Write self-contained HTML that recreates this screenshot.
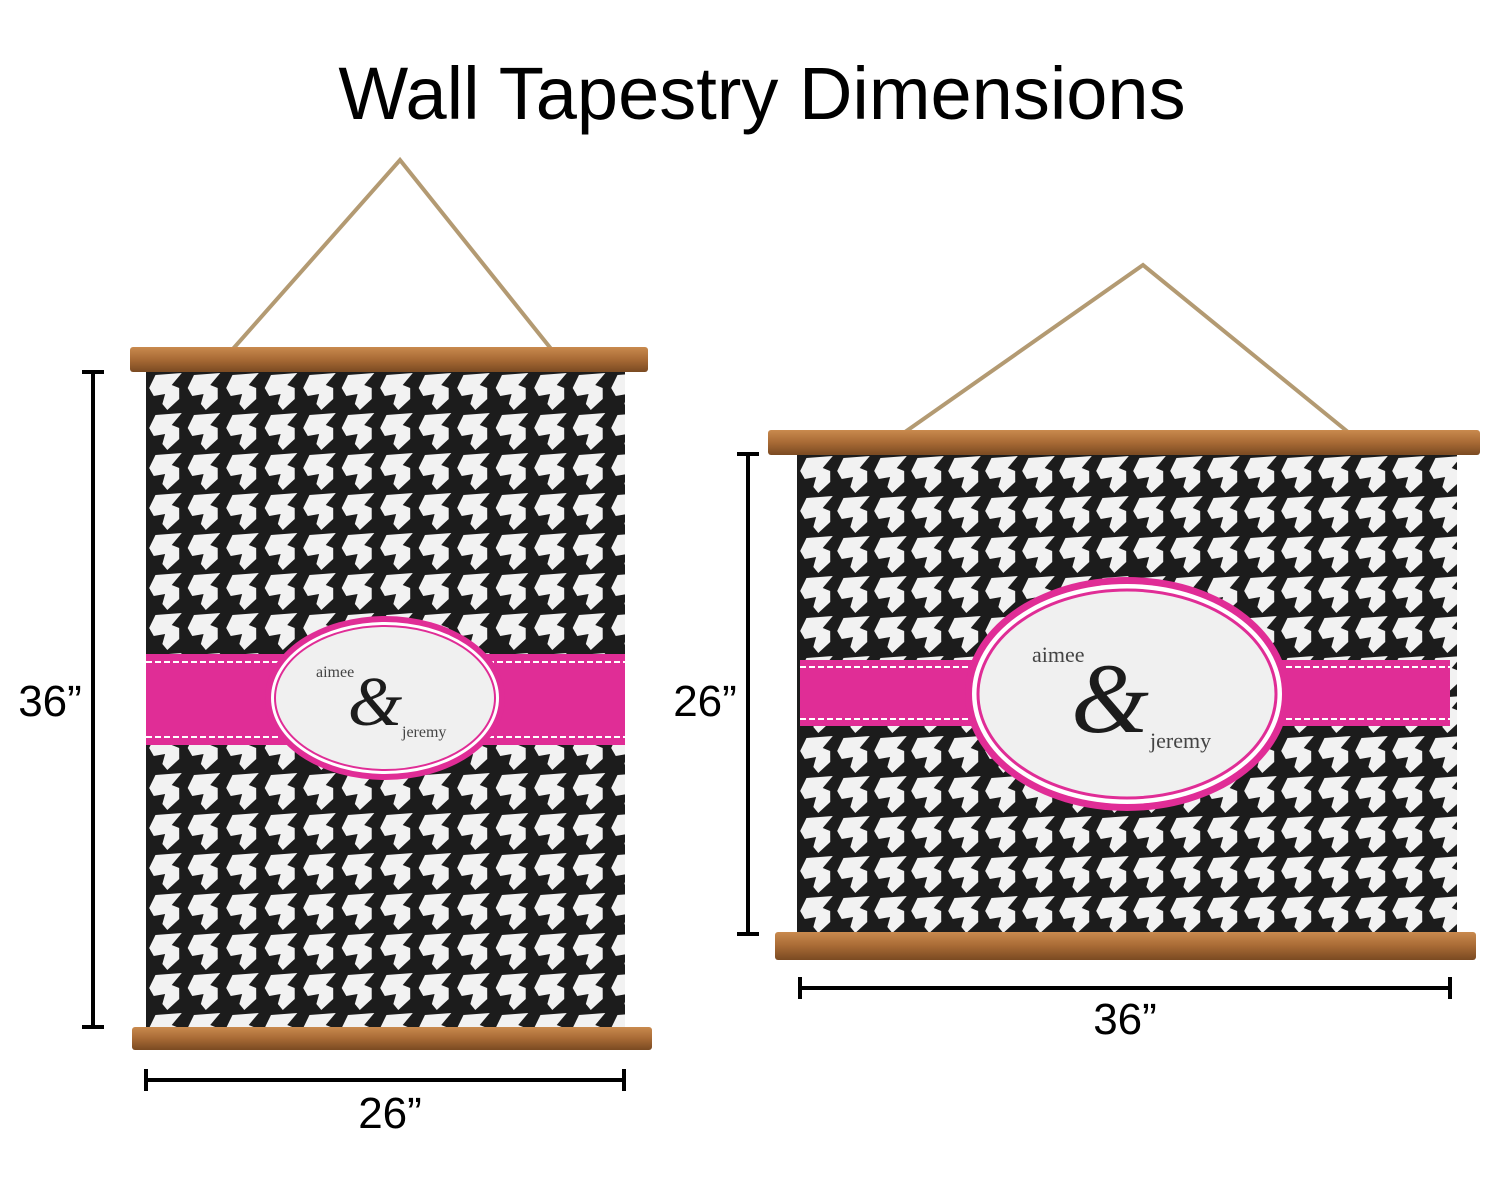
<!DOCTYPE html>
<html><head><meta charset="utf-8"><style>html,body{margin:0;padding:0;background:#fff}</style></head>
<body>
<svg width="1500" height="1180" viewBox="0 0 1500 1180" xmlns="http://www.w3.org/2000/svg">
<defs>
<pattern id="hL" x="146" y="372" width="38.5" height="40" patternUnits="userSpaceOnUse">
<rect width="38.5" height="40" fill="#1c1c1c"/>
<path d="M4 3 L30 1 L22 13 L30 16 L32 27 L22 38 L16 32 L17 22 L6 24 L0 16 Z" fill="#f2f2f2" transform="skewX(-10) translate(6,0)"/>
</pattern>
<pattern id="hR" x="797" y="455" width="37" height="40" patternUnits="userSpaceOnUse">
<rect width="37" height="40" fill="#1c1c1c"/>
<path d="M4 3 L30 1 L22 13 L30 16 L32 27 L22 38 L16 32 L17 22 L6 24 L0 16 Z" fill="#f2f2f2" transform="skewX(-10) translate(6,0)"/>
</pattern>
<linearGradient id="wood" x1="0" y1="0" x2="0" y2="1">
<stop offset="0" stop-color="#c98a4e"/><stop offset="0.5" stop-color="#a86a35"/><stop offset="1" stop-color="#7a4a22"/>
</linearGradient>
</defs>

<text x="762" y="119" text-anchor="middle" font-family="Liberation Sans, sans-serif" font-size="74" fill="#000">Wall Tapestry Dimensions</text>

<!-- LEFT -->
<polyline points="232,350 400,160 552,350" fill="none" stroke="#b39a72" stroke-width="4"/>
<rect x="146" y="372" width="479" height="658" fill="url(#hL)"/>
<rect x="146" y="654" width="479" height="91" fill="#e02d96"/>
<line x1="146" y1="662" x2="625" y2="662" stroke="#fff" stroke-width="2" stroke-dasharray="6 3"/>
<line x1="146" y1="737" x2="625" y2="737" stroke="#fff" stroke-width="2" stroke-dasharray="6 3"/>
<ellipse cx="385" cy="698" rx="120" ry="82" fill="#e02d96"/>
<ellipse cx="385" cy="698" rx="114" ry="76" fill="#fff"/>
<ellipse cx="385" cy="698" rx="110" ry="72" fill="#f0f0f0" stroke="#e02d96" stroke-width="2"/>
<text x="316" y="677" font-family="Liberation Serif, serif" font-size="16" fill="#444">aimee</text>
<text x="375" y="725" text-anchor="middle" font-family="Liberation Serif, serif" font-style="italic" font-size="70" fill="#1c1c1c">&amp;</text>
<text x="402" y="737" font-family="Liberation Serif, serif" font-size="16" fill="#444">jeremy</text>
<rect x="130" y="347" width="518" height="25" rx="3" fill="url(#wood)"/>
<rect x="132" y="1027" width="520" height="23" rx="3" fill="url(#wood)"/>

<line x1="93" y1="372" x2="93" y2="1027" stroke="#000" stroke-width="4"/>
<line x1="82" y1="372" x2="104" y2="372" stroke="#000" stroke-width="4"/>
<line x1="82" y1="1027" x2="104" y2="1027" stroke="#000" stroke-width="4"/>
<text x="50" y="716" text-anchor="middle" font-family="Liberation Sans, sans-serif" font-size="44" fill="#000">36”</text>
<line x1="146" y1="1080" x2="624" y2="1080" stroke="#000" stroke-width="4"/>
<line x1="146" y1="1069" x2="146" y2="1091" stroke="#000" stroke-width="4"/>
<line x1="624" y1="1069" x2="624" y2="1091" stroke="#000" stroke-width="4"/>
<text x="390" y="1128" text-anchor="middle" font-family="Liberation Sans, sans-serif" font-size="44" fill="#000">26”</text>

<!-- RIGHT -->
<polyline points="905,432 1143,265 1348,432" fill="none" stroke="#b39a72" stroke-width="4"/>
<rect x="797" y="455" width="660" height="480" fill="url(#hR)"/>
<rect x="800" y="660" width="650" height="66" fill="#e02d96"/>
<line x1="800" y1="667" x2="1450" y2="667" stroke="#fff" stroke-width="2" stroke-dasharray="6 3"/>
<line x1="800" y1="719" x2="1450" y2="719" stroke="#fff" stroke-width="2" stroke-dasharray="6 3"/>
<ellipse cx="1127" cy="694" rx="162" ry="117" fill="#e02d96"/>
<ellipse cx="1127" cy="694" rx="155" ry="110" fill="#fff"/>
<ellipse cx="1127" cy="694" rx="149" ry="104" fill="#f0f0f0" stroke="#e02d96" stroke-width="3"/>
<text x="1032" y="662" font-family="Liberation Serif, serif" font-size="22" fill="#444">aimee</text>
<text x="1110" y="732" text-anchor="middle" font-family="Liberation Serif, serif" font-style="italic" font-size="100" fill="#1c1c1c">&amp;</text>
<text x="1150" y="748" font-family="Liberation Serif, serif" font-size="22" fill="#444">jeremy</text>
<rect x="768" y="430" width="712" height="25" rx="3" fill="url(#wood)"/>
<rect x="775" y="932" width="701" height="28" rx="3" fill="url(#wood)"/>

<line x1="748" y1="454" x2="748" y2="934" stroke="#000" stroke-width="4"/>
<line x1="737" y1="454" x2="759" y2="454" stroke="#000" stroke-width="4"/>
<line x1="737" y1="934" x2="759" y2="934" stroke="#000" stroke-width="4"/>
<text x="705" y="716" text-anchor="middle" font-family="Liberation Sans, sans-serif" font-size="44" fill="#000">26”</text>
<line x1="800" y1="988" x2="1450" y2="988" stroke="#000" stroke-width="4"/>
<line x1="800" y1="977" x2="800" y2="999" stroke="#000" stroke-width="4"/>
<line x1="1450" y1="977" x2="1450" y2="999" stroke="#000" stroke-width="4"/>
<text x="1125" y="1034" text-anchor="middle" font-family="Liberation Sans, sans-serif" font-size="44" fill="#000">36”</text>
</svg>
</body></html>
